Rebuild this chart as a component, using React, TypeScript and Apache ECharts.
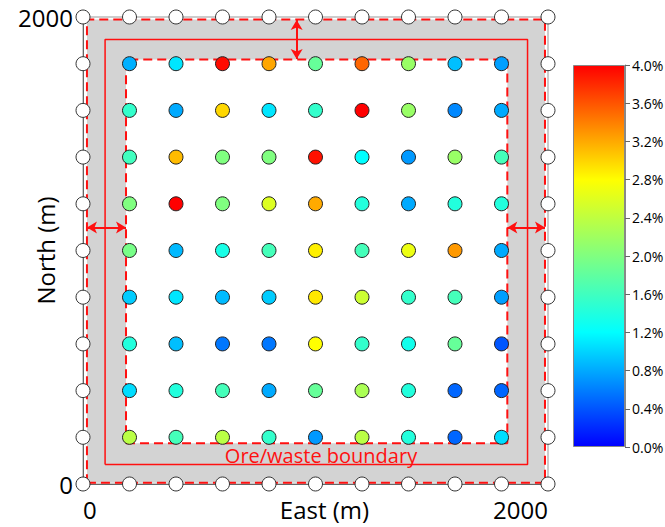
import React, { useEffect, useRef } from "react";
import * as echarts from "echarts";

// ---- data ----
const colX = [200, 400, 600, 800, 1000, 1200, 1400, 1600, 1800];
const rowY = [1800, 1600, 1400, 1200, 1000, 800, 600, 400, 200];
// grade (%) rows top (1800) to bottom (200), columns west to east
const grade: number[][] = [
  [0.83, 1.08, 3.95, 3.22, 1.84, 3.52, 2.16, 0.9, 0.75],
  [1.52, 0.8, 2.99, 1.08, 1.52, 4.0, 2.16, 0.64, 0.8],
  [1.6, 3.12, 2.0, 2.0, 3.92, 1.2, 0.72, 2.16, 1.63],
  [2.0, 4.0, 2.0, 2.59, 3.2, 1.41, 0.8, 1.41, 1.41],
  [1.95, 0.87, 1.35, 1.63, 2.87, 1.63, 2.69, 3.28, 0.8],
  [0.96, 1.08, 0.88, 0.96, 2.91, 2.48, 1.52, 1.63, 0.75],
  [1.41, 0.9, 0.56, 0.56, 2.8, 1.52, 1.31, 1.84, 0.4],
  [1.04, 1.41, 1.63, 0.8, 1.84, 2.27, 1.41, 0.48, 0.48],
  [2.37, 1.63, 2.37, 1.52, 0.72, 2.37, 1.41, 0.48, 1.04],
];
const edgeCoords = [0, 200, 400, 600, 800, 1000, 1200, 1400, 1600, 1800, 2000];
const axisMin = 0;
const axisMax = 2000;
const gradeMin = 0;
const gradeMax = 4;
const gradeStep = 0.4;
const jetColors = [
  "#0000ff", "#0055ff", "#00aaff", "#00ffff", "#40ffbf", "#80ff80",
  "#bfff40", "#ffff00", "#ffaa00", "#ff5500", "#ff0000",
];
// boundary rectangles [x0, y0, x1, y1] in metres
const outerRect = [17, 5, 1987, 1989];
const innerRect = [185, 175, 1825, 1818];
const boundaryRect = [95, 84, 1912, 1904];
// double arrows [[x0,y0],[x1,y1]]
const arrows = [
  [[919, 1987], [919, 1820]],
  [[17, 1098], [185, 1098]],
  [[1825, 1098], [1987, 1098]],
];
const boundaryLabel = "Ore/waste boundary";

const FONT = '"Open Sans", "Noto Sans", sans-serif';

const rectLoop = (r: number[]) => [
  [r[0], r[1]], [r[2], r[1]], [r[2], r[3]], [r[0], r[3]], [r[0], r[1]],
];

export default function App() {
  const ref = useRef<HTMLDivElement>(null);
  useEffect(() => {
    if (!ref.current) return;
    const chart = echarts.init(ref.current, undefined, { renderer: "svg" });

    const gradeData: number[][] = [];
    rowY.forEach((y, i) => colX.forEach((x, j) => gradeData.push([x, y, grade[i][j]])));
    const edgeData: number[][] = [];
    edgeCoords.forEach((y) => { edgeData.push([axisMin, y]); edgeData.push([axisMax, y]); });
    edgeCoords.slice(1, -1).forEach((x) => { edgeData.push([x, axisMin]); edgeData.push([x, axisMax]); });

    const red = "#ff1010";

    const option: any = {
      animation: false,
      textStyle: { fontFamily: FONT },
      grid: [
        { left: 83, right: 117, top: 17, bottom: 43, show: true, borderColor: "#999", borderWidth: 1, outerBoundsMode: "none", containLabel: false },
        { left: 573, top: 65, width: 52, height: 382, outerBoundsMode: "none", containLabel: false },
      ],
      xAxis: [
        {
          type: "value", gridIndex: 0, min: axisMin, max: axisMax, interval: 2000,
          axisLine: { show: true, lineStyle: { color: "#666", width: 1 } },
          axisTick: { show: false }, splitLine: { show: false },
          axisLabel: { fontSize: 24, color: "#000", margin: 13, fontFamily: FONT, alignMinLabel: "left", alignMaxLabel: "right", formatter: (v: number) => String(v) },
          name: "East (m)", nameLocation: "middle", nameGap: 13, nameMoveOverlap: false,
          nameTextStyle: { fontSize: 24, color: "#000", fontFamily: FONT, padding: [0, 0, 0, 18] },
        },
        { type: "category", gridIndex: 1, data: ["bar"], show: false },
      ],
      yAxis: [
        {
          type: "value", gridIndex: 0, min: axisMin, max: axisMax, interval: 2000,
          axisLine: { show: true, lineStyle: { color: "#666", width: 1 } },
          axisTick: { show: false }, splitLine: { show: false },
          axisLabel: { fontSize: 24, color: "#000", margin: 10, fontFamily: FONT, formatter: (v: number) => String(v) },
          name: "North (m)", nameLocation: "middle", nameGap: 26, nameMoveOverlap: false,
          nameTextStyle: { fontSize: 24, color: "#000", fontFamily: FONT },
        },
        {
          type: "value", gridIndex: 1, position: "right", min: gradeMin, max: gradeMax, interval: gradeStep,
          axisLine: { show: true, lineStyle: { color: "#888" } },
          axisTick: { show: true, length: 5, lineStyle: { color: "#666" } },
          splitLine: { show: false },
          axisLabel: { fontSize: 14, color: "#000", margin: 7, fontFamily: FONT, formatter: (v: number) => v.toFixed(1) + "%" },
        },
      ],
      visualMap: {
        type: "continuous", show: false, min: gradeMin, max: gradeMax, dimension: 2,
        seriesIndex: 6, inRange: { color: jetColors },
      },
      graphic: [
        {
          type: "text", x: 321, y: 455, z: 50,
          style: { text: boundaryLabel, fill: red, font: `20px ${FONT}`, textAlign: "center", textVerticalAlign: "middle" },
        },
      ],
      series: [
        {
          type: "custom", xAxisIndex: 0, yAxisIndex: 0, z: 1, silent: true,
          data: [[0]],
          renderItem: (_p: any, api: any) => {
            const o0 = api.coord([outerRect[0], outerRect[3]]);
            const o1 = api.coord([outerRect[2], outerRect[1]]);
            const i0 = api.coord([innerRect[0], innerRect[3]]);
            const i1 = api.coord([innerRect[2], innerRect[1]]);
            return {
              type: "group",
              children: [
                { type: "rect", shape: { x: o0[0], y: o0[1], width: o1[0] - o0[0], height: o1[1] - o0[1] }, style: { fill: "#d3d3d3" } },
                { type: "rect", shape: { x: i0[0], y: i0[1], width: i1[0] - i0[0], height: i1[1] - i0[1] }, style: { fill: "#ffffff" } },
              ],
            };
          },
        },
        {
          type: "line", xAxisIndex: 0, yAxisIndex: 0, z: 2, symbol: "none", silent: true,
          data: rectLoop(outerRect), lineStyle: { color: red, width: 2, type: [9, 5] },
        },
        {
          type: "line", xAxisIndex: 0, yAxisIndex: 0, z: 2, symbol: "none", silent: true,
          data: rectLoop(innerRect), lineStyle: { color: red, width: 2, type: [9, 5] },
        },
        {
          type: "line", xAxisIndex: 0, yAxisIndex: 0, z: 2, symbol: "none", silent: true,
          data: rectLoop(boundaryRect), lineStyle: { color: red, width: 1.5 },
          markLine: {
            silent: true, symbol: ["arrow", "arrow"], symbolSize: [9, 10],
            label: { show: false },
            lineStyle: { color: red, width: 2, type: "solid" },
            data: arrows.map((a) => [{ coord: a[0] }, { coord: a[1] }]),
          },
        },
        {
          type: "bar", xAxisIndex: 1, yAxisIndex: 1, data: [gradeMax], barWidth: "100%", silent: true,
          itemStyle: {
            borderColor: "#888", borderWidth: 1,
            color: new echarts.graphic.LinearGradient(0, 1, 0, 0,
              jetColors.map((c, i) => ({ offset: i / (jetColors.length - 1), color: c }))),
          },
        },
        {
          type: "scatter", xAxisIndex: 0, yAxisIndex: 0, z: 5, symbolSize: 14, silent: true,
          data: edgeData, itemStyle: { color: "#ffffff", borderColor: "#333", borderWidth: 1, opacity: 1 },
        },
        {
          type: "scatter", xAxisIndex: 0, yAxisIndex: 0, z: 5, symbolSize: 14, silent: true,
          data: gradeData, itemStyle: { borderColor: "#222", borderWidth: 1, opacity: 1 },
        },
      ],
    };
    chart.setOption(option);
    return () => chart.dispose();
  }, []);
  return <div ref={ref} style={{ position: "fixed", left: 0, top: 0, width: 665, height: 527, background: "#fff" }} />;
}
